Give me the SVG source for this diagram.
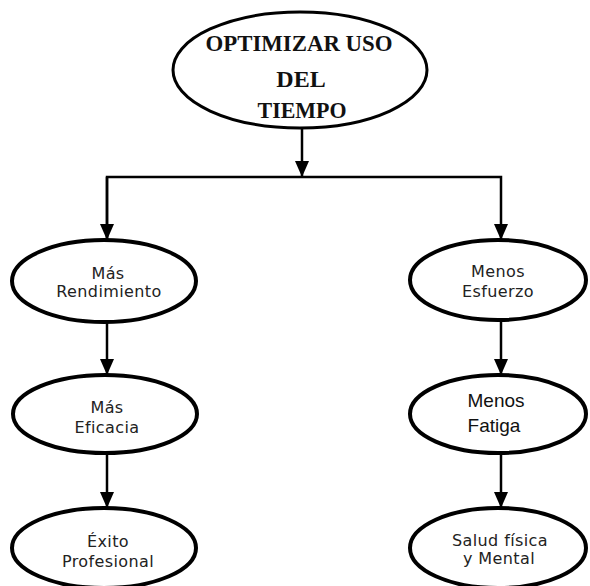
<svg xmlns="http://www.w3.org/2000/svg" width="590" height="586" viewBox="0 0 590 586">
<style>
.node ellipse{fill:#fff;stroke:#000;stroke-width:4}
#top ellipse{stroke-width:3}
.title{font-family:"Liberation Serif","Times New Roman",serif;font-weight:bold;font-size:24px;fill:#111;text-anchor:middle}
.lbl{font-family:"DejaVu Sans",sans-serif;font-size:16px;letter-spacing:0.4px;fill:#222;text-anchor:middle}
.big{font-family:"Liberation Sans",Arial,sans-serif;font-size:19px;fill:#111;text-anchor:middle}
.conn line,.conn path{stroke:#000;stroke-width:2.5;fill:none}
</style>
<defs>
<marker id="ah" markerUnits="userSpaceOnUse" markerWidth="18" markerHeight="14" refX="16" refY="7" orient="auto">
<path d="M0,0 L16,7 L0,14 Z" fill="#000"/>
</marker>
</defs>
<rect width="590" height="586" fill="#fff"/>
<g class="conn">
<line x1="302" y1="128" x2="302" y2="177" marker-end="url(#ah)"/>
<path d="M107,240 L107,177 L501,177 L501,240" marker-end="url(#ah)"/>
<line x1="107" y1="177" x2="107" y2="240" marker-end="url(#ah)"/>
<line x1="107" y1="322" x2="107" y2="375" marker-end="url(#ah)"/>
<line x1="107" y1="453" x2="107" y2="508" marker-end="url(#ah)"/>
<line x1="501" y1="320" x2="501" y2="375" marker-end="url(#ah)"/>
<line x1="501" y1="453" x2="501" y2="508" marker-end="url(#ah)"/>
</g>
<g id="top" class="node">
<ellipse cx="300" cy="70" rx="127" ry="58"/>
<text class="title" x="299" y="51" textLength="187" lengthAdjust="spacingAndGlyphs">OPTIMIZAR USO</text>
<text class="title" x="301" y="87">DEL</text>
<text class="title" x="302" y="118" textLength="89" lengthAdjust="spacingAndGlyphs">TIEMPO</text>
</g>
<g id="rendimiento" class="node">
<ellipse cx="104" cy="281" rx="92" ry="41"/>
<text class="lbl" x="108" y="279">Más</text>
<text class="lbl" x="109" y="297">Rendimiento</text>
</g>
<g id="eficacia" class="node">
<ellipse cx="105" cy="414" rx="92" ry="39"/>
<text class="lbl" x="107" y="413">Más</text>
<text class="lbl" x="107" y="433">Eficacia</text>
</g>
<g id="exito" class="node">
<ellipse cx="104" cy="548" rx="92" ry="40"/>
<text class="lbl" x="108" y="547">Éxito</text>
<text class="lbl" x="108" y="567">Profesional</text>
</g>
<g id="esfuerzo" class="node">
<ellipse cx="498" cy="280" rx="88" ry="40"/>
<text class="lbl" x="498" y="277">Menos</text>
<text class="lbl" x="498" y="297">Esfuerzo</text>
</g>
<g id="fatiga" class="node">
<ellipse cx="498" cy="414" rx="88" ry="39"/>
<text class="big" x="496" y="407">Menos</text>
<text class="big" x="494" y="432">Fatiga</text>
</g>
<g id="salud" class="node">
<ellipse cx="498" cy="548" rx="88" ry="40"/>
<text class="lbl" x="500" y="546">Salud física</text>
<text class="lbl" x="499" y="564">y Mental</text>
</g>
</svg>
